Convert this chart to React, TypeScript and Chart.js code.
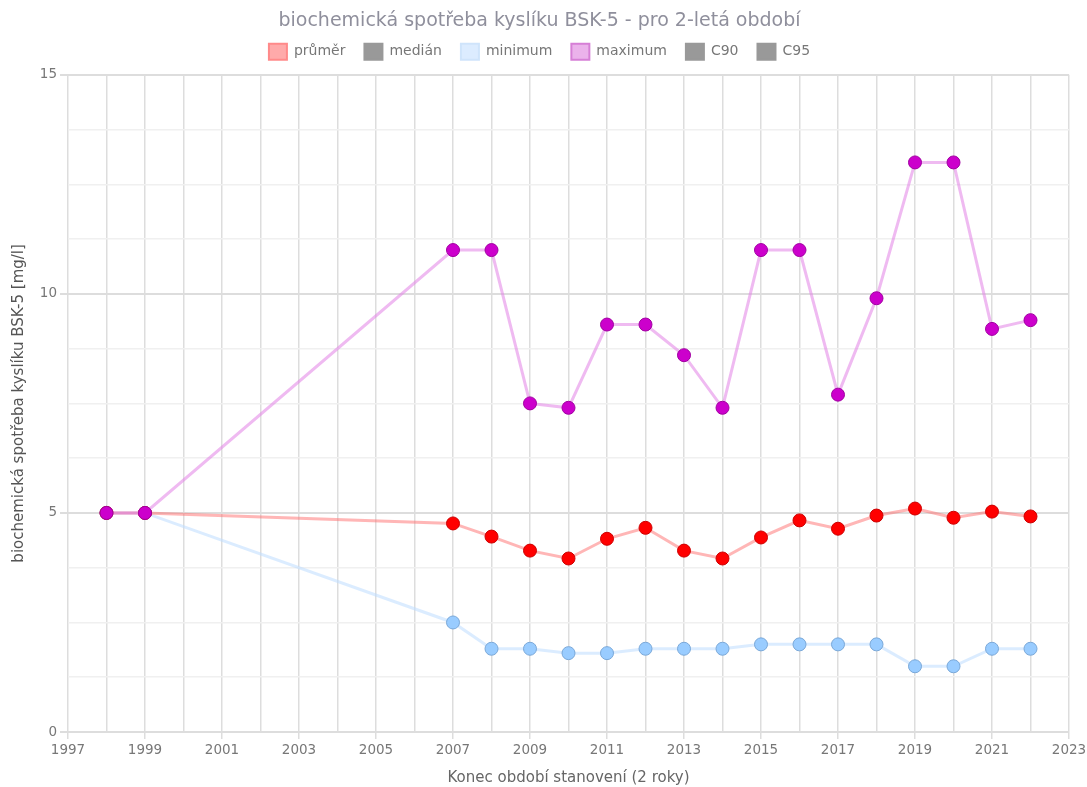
import React, { useEffect, useRef } from "react";
import { Chart, registerables } from "chart.js";

Chart.register(...registerables);

const years = [1998, 1999, 2007, 2008, 2009, 2010, 2011, 2012, 2013, 2014, 2015, 2016, 2017, 2018, 2019, 2020, 2021, 2022];
const prumer = [5, 5, 4.76, 4.46, 4.14, 3.96, 4.41, 4.66, 4.14, 3.96, 4.44, 4.83, 4.64, 4.94, 5.1, 4.89, 5.03, 4.92];
const minimum = [5, 5, 2.5, 1.9, 1.9, 1.8, 1.8, 1.9, 1.9, 1.9, 2.0, 2.0, 2.0, 2.0, 1.5, 1.5, 1.9, 1.9];
const maximum = [5, 5, 11, 11, 7.5, 7.4, 9.3, 9.3, 8.6, 7.4, 11, 11, 7.7, 9.9, 13, 13, 9.2, 9.4];

const FONT = "'DejaVu Sans', Verdana, sans-serif";

function pts(vals: number[]) {
  return years.map((x, i) => ({ x, y: vals[i] }));
}

const legendBorder: Record<string, string> = {
  "průměr": "#ff8a8a",
  "minimum": "#cfe4fb",
  "maximum": "#d67fd6",
};

const legendSpacer = {
  id: "legendSpacer",
  beforeLayout(chart: any) {
    const lg = chart.legend;
    if (lg && !lg._spacerPatched) {
      const orig = lg.fit.bind(lg);
      lg.fit = function () {
        orig();
        this.height += 5;
      };
      lg._spacerPatched = true;
    }
  },
};

export default function App() {
  const ref = useRef<HTMLCanvasElement | null>(null);
  useEffect(() => {
    if (!ref.current) return;
    const chart = new Chart(ref.current, {
      type: "line",
      plugins: [legendSpacer],
      data: {
        datasets: [
          {
            label: "průměr",
            data: pts(prumer),
            borderColor: "rgba(255,110,110,0.5)",
            backgroundColor: "rgba(255,170,170,1)",
            borderWidth: 3,
            pointRadius: 6.5,
            pointHoverRadius: 6.5,
            pointBackgroundColor: "#ff0000",
            pointBorderColor: "#cc0000",
            pointBorderWidth: 1,
            order: 1,
          },
          {
            label: "medián",
            data: [],
            borderColor: "#999999",
            backgroundColor: "#999999",
            order: 3,
          },
          {
            label: "minimum",
            data: pts(minimum),
            borderColor: "rgba(190,220,255,0.55)",
            backgroundColor: "#dcecff",
            borderWidth: 3,
            pointRadius: 6.5,
            pointHoverRadius: 6.5,
            pointBackgroundColor: "#99ccff",
            pointBorderColor: "#7aa8d8",
            pointBorderWidth: 1,
            order: 2,
          },
          {
            label: "maximum",
            data: pts(maximum),
            borderColor: "rgba(225,130,230,0.55)",
            backgroundColor: "#ebb2eb",
            borderWidth: 3,
            pointRadius: 6.5,
            pointHoverRadius: 6.5,
            pointBackgroundColor: "#cc00cc",
            pointBorderColor: "#a000a0",
            pointBorderWidth: 1,
            order: 0,
          },
          {
            label: "C90",
            data: [],
            borderColor: "#999999",
            backgroundColor: "#999999",
            order: 3,
          },
          {
            label: "C95",
            data: [],
            borderColor: "#999999",
            backgroundColor: "#999999",
            order: 3,
          },
        ],
      },
      options: {
        animation: false,
        responsive: true,
        maintainAspectRatio: false,
        layout: { padding: { left: 4, right: 12, top: 6, bottom: 0 } },
        plugins: {
          title: {
            display: true,
            text: "biochemická spotřeba kyslíku BSK-5 - pro 2-letá období",
            color: "#8f8f9c",
            font: { family: FONT, size: 19, weight: "normal" },
            padding: { top: 4, bottom: -8 },
          },
          legend: {
            display: true,
            labels: {
              boxWidth: 18,
              boxHeight: 16,
              color: "#777777",
              font: { family: FONT, size: 14 },
              padding: 19,
              generateLabels: (c: any) =>
                c.data.datasets.map((ds: any, i: number) => ({
                  text: ds.label,
                  fillStyle: ds.backgroundColor,
                  strokeStyle: legendBorder[ds.label] || "#999999",
                  lineWidth: 2,
                  hidden: false,
                  datasetIndex: i,
                  fontColor: "#777777",
                })),
            },
          },
          tooltip: { enabled: false },
        },
        scales: {
          x: {
            type: "linear",
            min: 1997,
            max: 2023,
            afterFit: (s: any) => {
              s.height = 55;
              s.paddingRight = 18;
            },
            ticks: {
              stepSize: 1,
              autoSkip: false,
              color: "#777777",
              font: { family: FONT, size: 13.5 },
              maxRotation: 0,
              callback: (v: any) => (Number(v) % 2 === 1 ? String(v) : ""),
            },
            grid: {
              color: "#dddddd",
              lineWidth: 1.5,
              tickLength: 7,
              tickColor: (ctx: any) => (ctx.tick && Number(ctx.tick.value) % 2 === 1 ? "#dddddd" : "rgba(0,0,0,0)"),
            },
            border: { display: true, color: "#dddddd", width: 2 },
            title: {
              display: true,
              text: "Konec období stanovení (2 roky)",
              color: "#666666",
              font: { family: FONT, size: 15 },
              padding: { top: 4, bottom: 0 },
            },
          },
          y: {
            min: 0,
            max: 15,
            afterFit: (s: any) => {
              s.width = 64;
            },
            ticks: {
              stepSize: 1.25,
              autoSkip: false,
              color: "#777777",
              font: { family: FONT, size: 13.5 },
              callback: (v: any) => (Number(v) % 5 === 0 ? String(v) : ""),
            },
            grid: {
              color: (ctx: any) => (ctx.tick && Number(ctx.tick.value) % 5 === 0 ? "#dddddd" : "#f0f0f0"),
              lineWidth: (ctx: any) => (ctx.tick && Number(ctx.tick.value) % 5 === 0 ? 2 : 1.5),
              tickLength: 8,
              tickColor: (ctx: any) => (ctx.tick && Number(ctx.tick.value) % 5 === 0 ? "#dddddd" : "rgba(0,0,0,0)"),
            },
            border: { display: false },
            title: {
              display: true,
              text: "biochemická spotřeba kyslíku BSK-5 [mg/l]",
              color: "#555555",
              font: { family: FONT, size: 15 },
              padding: { top: 6, bottom: 0 },
            },
          },
        },
      },
    } as any);
    return () => chart.destroy();
  }, []);
  return (
    <div style={{ position: "fixed", left: 0, top: 0, width: 1087, height: 787, background: "#fff" }}>
      <canvas ref={ref} />
    </div>
  );
}
